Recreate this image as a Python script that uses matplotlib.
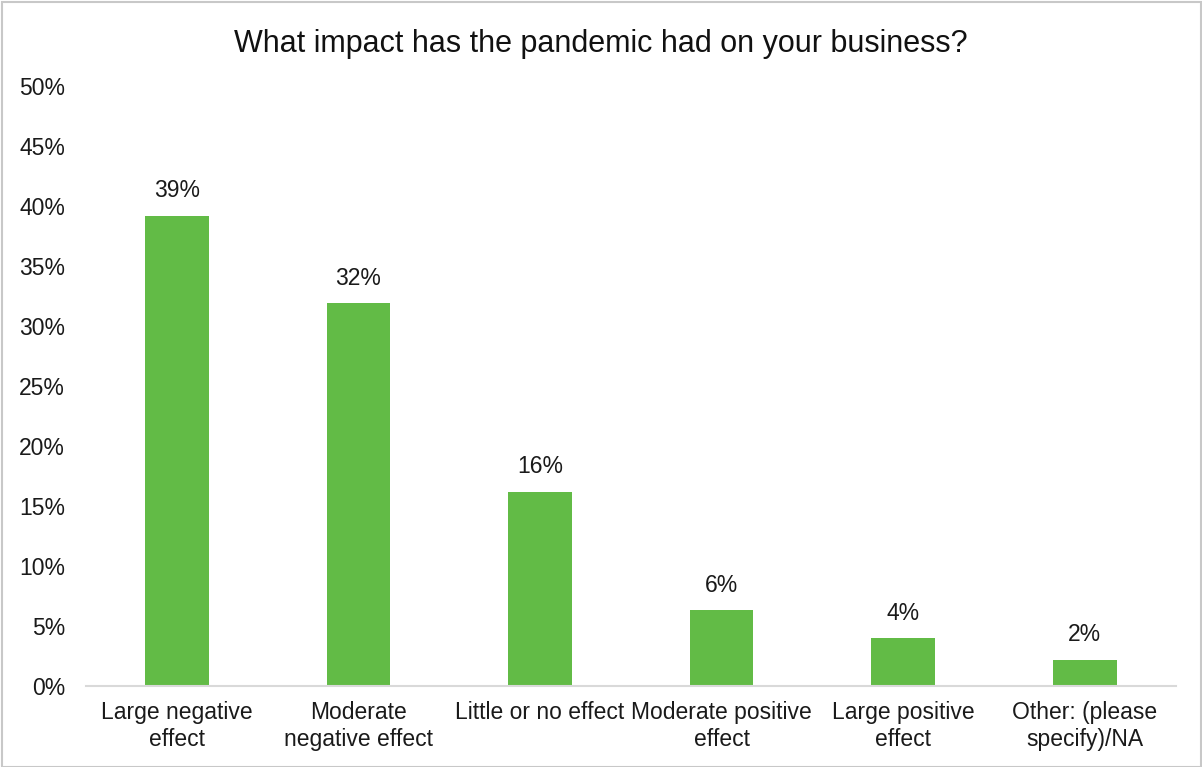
import numpy as np
import matplotlib
matplotlib.use("Agg")
import matplotlib.pyplot as plt
from matplotlib.patches import Rectangle

plt.rcParams['font.family'] = ['Liberation Sans', 'DejaVu Sans']

categories = ['Large negative\neffect', 'Moderate\nnegative effect', 'Little or no effect',
              'Moderate positive\neffect', 'Large positive\neffect', 'Other: (please\nspecify)/NA']
values = [39.2, 31.9, 16.2, 6.3, 4.0, 2.2]
labels = ['39%', '32%', '16%', '6%', '4%', '2%']
yticks = [0, 5, 10, 15, 20, 25, 30, 35, 40, 45, 50]

fig = plt.figure(figsize=(12.02, 7.67), dpi=100)
ax = fig.add_axes([0.0715, 0.1056, 0.9065, 0.7824])

x = np.arange(len(categories))
ax.bar(x, values, width=0.35, color='#62BB46')
for xi, v, lab in zip(x, values, labels):
    ax.text(xi, v + 1.1, lab, ha='center', va='bottom', fontsize=16.5, color='#1a1a1a')

ax.set_xlim(-0.5, len(categories) - 0.5)
ax.set_ylim(0, 50)
ax.set_yticks(yticks)
ax.set_yticklabels([f'{t}%' for t in yticks])
ax.set_xticks(x)
ax.set_xticklabels(categories, linespacing=1.2)
ax.tick_params(axis='both', length=0, labelsize=16.5, colors='#1a1a1a')
ax.tick_params(axis='y', pad=15)
ax.tick_params(axis='x', pad=11)
for s in ['top', 'right', 'left']:
    ax.spines[s].set_visible(False)
ax.spines['bottom'].set_color('#d9d9d9')
ax.spines['bottom'].set_linewidth(1.5)

fig.suptitle('What impact has the pandemic had on your business?', y=0.962, fontsize=22, color='#111111')

fig.patches.append(Rectangle((0.002, 0.0), 0.997, 0.997, transform=fig.transFigure,
                             fill=False, edgecolor='#c8c8c8', linewidth=1.5))

fig.savefig('out.png', dpi=100)
